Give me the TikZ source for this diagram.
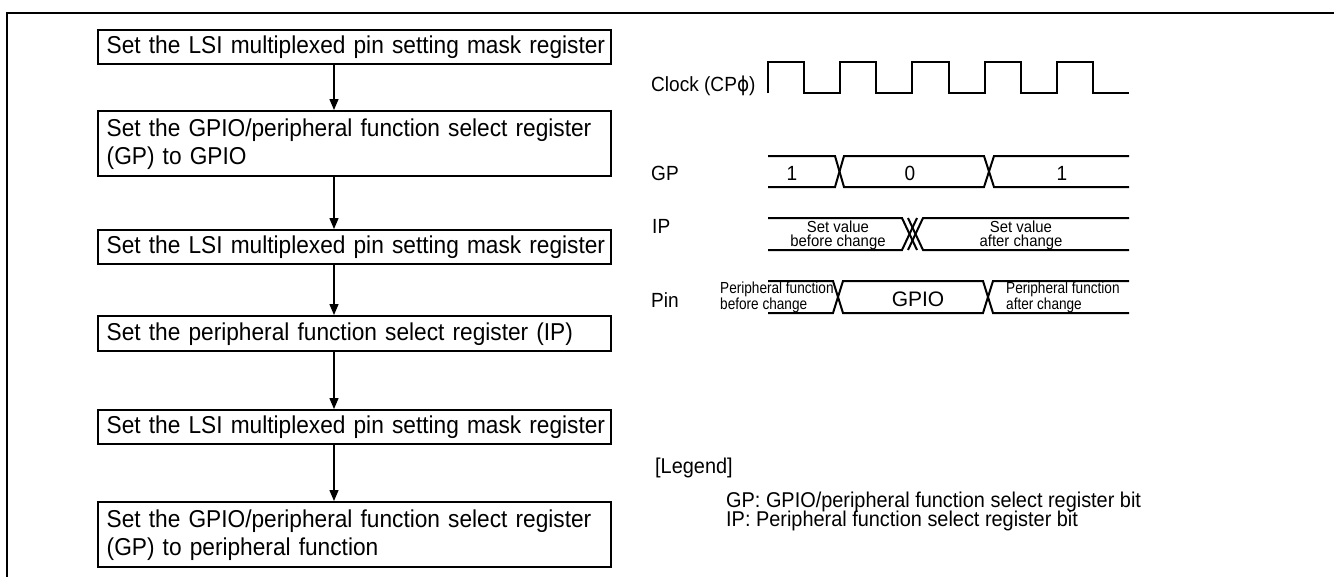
\documentclass[tikz,border=0pt]{standalone}
\usepackage{fontspec}
\setmainfont{Liberation Sans}[FakeStretch=0.93]
\newfontfamily\pinfont{Liberation Sans}[FakeStretch=0.85]
\newfontfamily\plainfont{Liberation Sans}
\newfontfamily\phifont{DejaVu Sans}[FakeStretch=0.9]
\usetikzlibrary{arrows.meta}
\tikzset{
  flowbox/.style={draw, line width=2.4pt, anchor=north west, text width=496pt,
    inner xsep=8.5pt, inner ysep=0pt, align=left, font=\fontsize{24.4}{28}\selectfont},
  flowarrow/.style={line width=1.3pt, -{Triangle[length=11pt,width=9pt]}},
  wave/.style={line width=2pt, line join=miter},
  siglabel/.style={anchor=base west, inner sep=0pt, font=\fontsize{20.5}{24}\selectfont},
  busval/.style={anchor=base, inner sep=0pt, font=\fontsize{20.5}{24}\selectfont},
  smalltxt/.style={inner sep=0pt, align=center, font=\fontsize{16}{14}\selectfont},
  pintxt/.style={inner sep=0pt, anchor=west, align=left, font=\pinfont\fontsize{16}{13}\selectfont},
  legtxt/.style={anchor=base west, inner sep=0pt, font=\fontsize{21.4}{24}\selectfont},
  frameline/.style={line width=2pt}
}
\begin{document}
\begin{tikzpicture}[x=1pt,y=-1pt]
\useasboundingbox (0,0) rectangle (1334,576);
% outer frame
\draw[frameline] (7,577) -- (7,13) -- (1335,13);

% flow chart
\node[flowbox, minimum height=34pt] (b1) at (97,29) {\mbox{Set the LSI multiplexed pin setting mask register}};
\node[flowbox, minimum height=65pt] (b2) at (97,110) {\mbox{Set the GPIO/peripheral function select register}\\\mbox{(GP) to GPIO}};
\node[flowbox, minimum height=34pt] (b3) at (97,229) {\mbox{Set the LSI multiplexed pin setting mask register}};
\node[flowbox, minimum height=35pt] (b4) at (97,315) {\mbox{Set the peripheral function select register (IP)}};
\node[flowbox, minimum height=34pt] (b5) at (97,409) {\mbox{Set the LSI multiplexed pin setting mask register}};
\node[flowbox, minimum height=65pt] (b6) at (97,501) {\mbox{Set the GPIO/peripheral function select register}\\\mbox{(GP) to peripheral function}};
\coordinate (ax) at (334,0);
\draw[flowarrow] (b1.south -| ax) -- (b2.north -| ax);
\draw[flowarrow] (b2.south -| ax) -- (b3.north -| ax);
\draw[flowarrow] (b3.south -| ax) -- (b4.north -| ax);
\draw[flowarrow] (b4.south -| ax) -- (b5.north -| ax);
\draw[flowarrow] (b5.south -| ax) -- (b6.north -| ax);

% signal labels
\node[siglabel] (clk) at (651,91) {Clock (CP{\phifont\char"03D5})};
\node[siglabel] (gpl) at (651,180) {GP};
\node[siglabel] (ipl) at (652,233) {IP};
\node[siglabel] (pinl) at (651,307) {Pin};

% clock waveform
\draw[wave] (768,93) -- (768,62) -- (804.1,62) -- (804.1,93) -- (840.2,93) -- (840.2,62)
  -- (876.3,62) -- (876.3,93) -- (912.4,93) -- (912.4,62) -- (948.5,62) -- (948.5,93)
  -- (984.6,93) -- (984.6,62) -- (1020.7,62) -- (1020.7,93) -- (1056.8,93) -- (1056.8,62)
  -- (1092.9,62) -- (1092.9,93) -- (1129,93);

% GP bus
\draw[wave] (768,156) -- (835,156) -- (844,187) -- (984,187) -- (994,156) -- (1129,156);
\draw[wave] (768,187) -- (835,187) -- (844,156) -- (984,156) -- (994,187) -- (1129,187);
\node[busval] (gpa) at (792,180) {1};
\node[busval] (gpb) at (910,180) {0};
\node[busval] (gpc) at (1062,180) {1};

% IP bus
\draw[wave] (768,218) -- (902,218) -- (917,250);
\draw[wave] (768,250) -- (902,250) -- (917,218);
\draw[wave] (908,218) -- (923,250) -- (1129,250);
\draw[wave] (908,250) -- (923,218) -- (1129,218);
\node[smalltxt] (ipa) at (838,235.5) {Set value\\before change};
\node[smalltxt] (ipb) at (1021,235.5) {Set value\\after change};

% Pin bus
\draw[wave] (768,281) -- (833,281) -- (843,313) -- (983,313) -- (993,281) -- (1129,281);
\draw[wave] (768,313) -- (833,313) -- (843,281) -- (983,281) -- (993,313) -- (1129,313);
\node[pintxt] (pina) at (720,297.5) {Peripheral function\\before change};
\node[busval, font=\plainfont\fontsize{21}{24}\selectfont] (pingpio) at (918,306) {GPIO};
\node[pintxt] (pinb) at (1006,297.5) {Peripheral function\\after change};

% legend
\node[legtxt] (leg) at (655,473) {[Legend]};
\node[legtxt] (leg1) at (726,507) {GP: GPIO/peripheral function select register bit};
\node[legtxt] (leg2) at (726,526) {IP: Peripheral function select register bit};
\end{tikzpicture}
\end{document}
